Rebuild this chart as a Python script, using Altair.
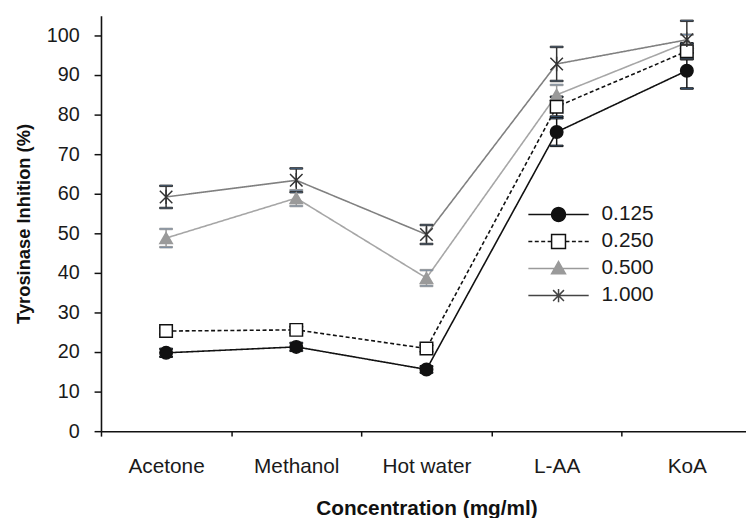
import math
import altair as alt
import pandas as pd

# ---------------- data ----------------
cats = ["Acetone", "Methanol", "Hot water", "L-AA", "KoA"]
series = ["0.125", "0.250", "0.500", "1.000"]

vals_0125 = [19.8, 21.3, 15.6, 75.6, 91.1]
err_0125 = [1.0, 1.0, 0.8, 3.5, 4.5]
vals_0250 = [25.3, 25.6, 20.9, 82.0, 96.0]
err_0250 = [0.8, 0.8, 0.8, 2.5, 2.0]
vals_0500 = [48.8, 58.9, 38.7, 85.0, 98.2]
err_0500 = [2.3, 2.0, 2.0, 2.5, 2.0]
vals_1000 = [59.2, 63.4, 49.7, 92.8, 98.9]
err_1000 = [2.8, 3.0, 2.4, 4.3, 4.8]

all_vals = [vals_0125, vals_0250, vals_0500, vals_1000]
all_errs = [err_0125, err_0250, err_0500, err_1000]

rows = []
for s, vs, es in zip(series, all_vals, all_errs):
    for i, (c, v, e) in enumerate(zip(cats, vs, es)):
        rows.append({"series": s, "cat": c, "idx": i, "val": v, "lo": v - e, "hi": v + e})
df = pd.DataFrame(rows)

# drawing order for markers (later on top)
draw_order = ["0.500", "0.125", "0.250", "1.000"]
df_pts = pd.concat([df[df["series"] == s] for s in draw_order], ignore_index=True)

# ---------------- styles ----------------
FONT = "Liberation Sans"
line_colors = ["#111111", "#111111", "#a6a6a6", "#808080"]
dashes = [[1, 0], [4, 2.5], [1, 0], [1, 0]]
marker_fill = ["#111111", "white", "#9a9a9a", "transparent"]
marker_stroke = ["#111111", "#111111", "#9a9a9a", "#333333"]
star_path = "M-1,-1L1,1M-1,1L1,-1M0,-1.15L0,1.15"
marker_shapes = ["circle", "square", "triangle-up", star_path]


# legend symbols: a line with the marker in the middle (normalised [-1,1] path)
def circle_poly(r, n=20):
    pts = [(r * math.cos(2 * math.pi * k / n), r * math.sin(2 * math.pi * k / n)) for k in range(n)]
    return "M" + "L".join(f"{x:.3f},{y:.3f}" for x, y in pts) + "Z"


r = 0.23
solid = "M-1,0L1,0"
dash_on, dash_off = 0.131, 0.082
dash_segs = ""
for a, b in [(-1.0, -r), (r, 1.0)]:
    x = a
    while x < b:
        x2 = min(x + dash_on, b)
        dash_segs += f"M{x:.3f},0L{x2:.3f},0"
        x = x2 + dash_off
legend_paths = [
    solid + circle_poly(r),
    dash_segs + f"M{-r},{-r}L{r},{-r}L{r},{r}L{-r},{r}Z",
    solid + "M0,-0.23L0.23,0.17L-0.23,0.17Z",
    solid + "M-0.18,-0.18L0.18,0.18M-0.18,0.18L0.18,-0.18M0,-0.22L0,0.22",
]
legend_fill = ["#111111", "white", "#9a9a9a", "transparent"]
legend_stroke = ["#111111", "#111111", "#9a9a9a", "#444444"]

x_axis = alt.Axis(
    title="Concentration (mg/ml)",
    labelAngle=0,
    tickBand="extent",
    tickSize=5,
    labelPadding=20,
    labelFontSize=21,
    titleFontSize=21,
    titleFontWeight="bold",
    titleY=84,
    titleBaseline="alphabetic",
)
y_axis = alt.Axis(
    values=list(range(0, 101, 10)),
    tickSize=7,
    labelPadding=15,
    labelFontSize=20,
    grid=False,
    title="Tyrosinase Inhition (%)",
    titleFontSize=18.5,
    titleFontWeight="bold",
    titleAngle=270,
    titleX=-78,
    titleY=210,
    titleAlign="center",
    titleBaseline="middle",
)

x_scale = alt.Scale(domain=cats, range=[0, 658], paddingInner=0, paddingOuter=0)
y_scale = alt.Scale(domain=[0, 105], nice=False, zero=True)

X = alt.X("cat:N", sort=cats, scale=x_scale, axis=x_axis)
Y = alt.Y("val:Q", scale=y_scale, axis=y_axis)


def stroke_enc(rng):
    return alt.Stroke("series:N", scale=alt.Scale(domain=series, range=rng), legend=None)


lines = alt.Chart(df).mark_line(strokeWidth=1.6).encode(
    x=X,
    y=Y,
    color=alt.Color("series:N", scale=alt.Scale(domain=series, range=line_colors), legend=None),
    strokeDash=alt.StrokeDash("series:N", scale=alt.Scale(domain=series, range=dashes), legend=None),
    order=alt.Order("idx:Q"),
)

rules = alt.Chart(df).mark_rule(strokeWidth=1.5).encode(
    x=X,
    y=alt.Y("lo:Q", scale=y_scale, axis=y_axis),
    y2="hi:Q",
    stroke=stroke_enc(marker_stroke),
)

caps = alt.Chart(df).transform_fold(["lo", "hi"], as_=["end", "v"]).mark_tick(
    size=13, thickness=1.5, opacity=1
).encode(
    x=X,
    y=alt.Y("v:Q", scale=y_scale, axis=y_axis),
    stroke=stroke_enc(marker_stroke),
)

points = alt.Chart(df_pts).mark_point(opacity=1, size=160, strokeWidth=1.5).encode(
    x=X,
    y=Y,
    shape=alt.Shape("series:N", scale=alt.Scale(domain=series, range=marker_shapes), legend=None),
    fill=alt.Fill("series:N", scale=alt.Scale(domain=series, range=marker_fill), legend=None),
    stroke=stroke_enc(marker_stroke),
)

leg = alt.Legend(
    orient="none",
    legendX=431,
    legendY=190,
    title=None,
    symbolSize=3721,
    symbolStrokeWidth=1.5,
    symbolFillColor="white",
    symbolStrokeColor="black",
    labelFontSize=21,
    labelFont=FONT,
    labelColor="#1a1a1a",
    labelOffset=12,
    clipHeight=22,
    rowPadding=5.3,
    padding=0,
)

legend_layer = alt.Chart(df).transform_filter("false").mark_point(opacity=1, strokeWidth=1.5).encode(
    x=X,
    y=Y,
    shape=alt.Shape("series:N", scale=alt.Scale(domain=series, range=legend_paths), legend=leg),
    fill=alt.Fill("series:N", scale=alt.Scale(domain=series, range=legend_fill), legend=leg),
    stroke=alt.Stroke("series:N", scale=alt.Scale(domain=series, range=legend_stroke), legend=leg),
)

chart = (
    alt.layer(lines, rules, caps, points, legend_layer)
    .resolve_scale(shape="independent", fill="independent", stroke="independent")
    .properties(
        width=652,
        height=420,
        autosize=alt.AutoSizeParams(type="none"),
        padding={"left": 94, "top": 5, "right": 0, "bottom": 85},
        background="white",
    )
    .configure_view(strokeWidth=0)
    .configure_axis(
        labelFont=FONT,
        titleFont=FONT,
        labelColor="#1a1a1a",
        titleColor="#111111",
        domainColor="#111111",
        domainWidth=1.6,
        tickColor="#111111",
        tickWidth=1.5,
    )
)

chart.save("out.html", embed_options={"renderer": "svg", "actions": False})
